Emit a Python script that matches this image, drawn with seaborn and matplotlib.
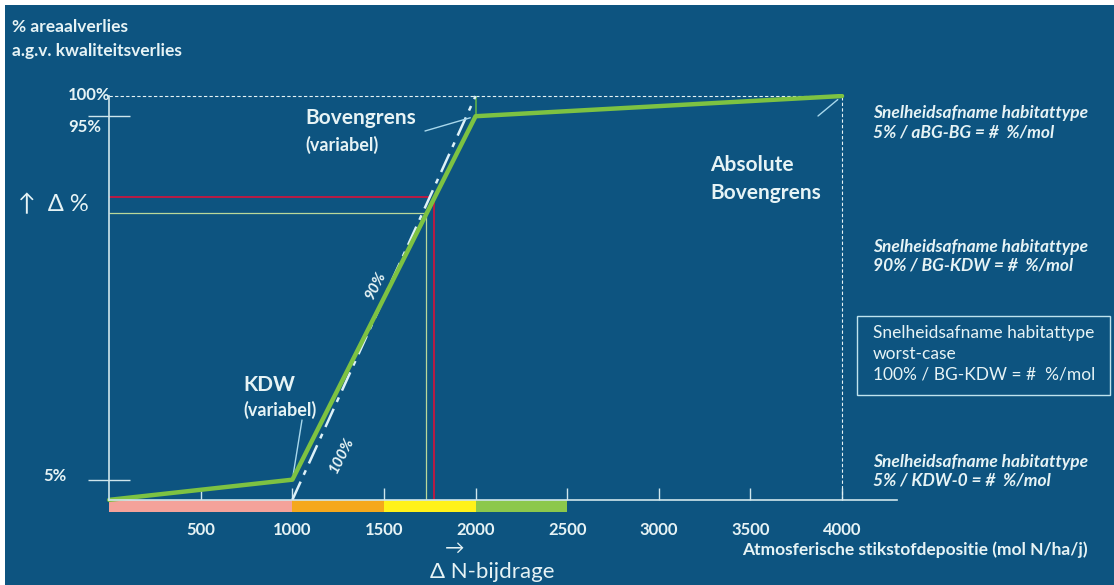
import matplotlib
matplotlib.use("Agg")
import matplotlib.pyplot as plt
from matplotlib.patches import Rectangle
import seaborn as sns
import pandas as pd

# --- data ---
curve_x = [0, 1000, 2000, 4000]          # KDW, BG, absolute BG (mol N/ha/j)
curve_y = [0, 5, 95, 100]                # % areaalverlies
worst_x = [1000, 2000]
worst_y = [0, 100]
bar_start = [0, 1000, 1500, 2000]
bar_width = [1000, 500, 500, 500]
bar_colors = ["#F4A29A", "#F5A81C", "#FFF21A", "#8CC84B"]
x_ticks = [500, 1000, 1500, 2000, 2500, 3000, 3500, 4000]
y_ticks = [5, 95]
y_labels = ["100%", "95%", "5%"]
red_point = (1775, 75)
green_point = (1730, 71)

W, H = 1114, 585
BG = "#0D5480"
TXT = "#E6F3F5"
LINEBLUE = "#A8D8EC"


def fxy(px, py):
    return (px / W, 1 - py / H)


sns.set_style("white")
plt.rcParams["font.family"] = ["Lato", "DejaVu Sans"]

fig = plt.figure(figsize=(W / 100, H / 100), dpi=100, facecolor="white")
fig.patches.append(Rectangle((5 / W, 0), 1, 1 - 5 / H, transform=fig.transFigure,
                             facecolor=BG, edgecolor="none", zorder=-10))

# axes: 100..897 px horizontally, 94..514 px vertically
ax = fig.add_axes([100 / W, 1 - 514 / H, 797 / W, 420 / H])
ax.set_facecolor("none")
ax.set_xlim(-50, 4300)
ax.set_ylim(-3.5, 100.5)

# colored deposition bands below the axis
ax.barh(y=-1.5, width=bar_width, left=bar_start, height=3, color=bar_colors,
        edgecolor="none", zorder=2)

# reference lines
ax.hlines(100, 0, 4000, colors=TXT, linestyles=(0, (3, 2)), lw=0.8)
ax.vlines(4000, 0, 100, colors=TXT, linestyles=(0, (3, 2)), lw=0.8)
ax.vlines(2000, 95, 100, colors="#5DB04A", lw=1.2)
ax.hlines(green_point[1], 0, green_point[0], colors="#B9D89A", lw=0.9)
ax.vlines(green_point[0], 0, green_point[1], colors="#B9D89A", lw=0.9)
ax.hlines(red_point[1], 0, red_point[0] - 25, colors="#C8173F", lw=1.3)
ax.vlines(red_point[0], 0, red_point[1], colors="#C8173F", lw=1.3)

# worst-case (100%) line and the actual curve
ax.plot(worst_x, worst_y, color="#DDF1F8", lw=1.8, ls=(0, (8, 3, 2, 3)), zorder=3)
df = pd.DataFrame({"x": curve_x, "y": curve_y})
sns.lineplot(data=df, x="x", y="y", ax=ax, color="#7DC242", lw=3.2, zorder=4,
             sort=False, estimator=None)

# spines / ticks
for s in ["top", "right"]:
    ax.spines[s].set_visible(False)
ax.spines["left"].set_position(("data", 0))
ax.spines["left"].set_bounds(0, 100)
ax.spines["bottom"].set_position(("data", 0))
ax.spines["bottom"].set_bounds(0, 4300)
for s in ["left", "bottom"]:
    ax.spines[s].set_color("#CFE6EC")
    ax.spines[s].set_linewidth(1.2)
    ax.spines[s].set_zorder(5)
ax.set_xticks(x_ticks)
ax.set_xticklabels([str(t) for t in x_ticks], fontsize=12, fontweight="bold", color=TXT)
ax.tick_params(axis="x", bottom=True, direction="in", length=9, width=1,
               color="#CFE6EC", pad=16)
ax.set_yticks(y_ticks)
ax.set_yticklabels([])
ax.tick_params(axis="y", left=True, direction="inout", length=30, width=1, color="#CFE6EC")
ax.set_xlabel("")
ax.set_ylabel("")


# text labels
def ftext(px, py, s, **kw):
    kw.setdefault("color", TXT)
    kw.setdefault("va", "center")
    kw.setdefault("ha", "left")
    fig.text(*fxy(px, py), s, **kw)


for (px, py), lab in zip([(68, 95), (68, 127), (43, 476)], y_labels):
    ftext(px, py, lab, fontsize=12, fontweight="bold")

ftext(12, 27, "% areaalverlies", fontsize=12.5, fontweight="bold")
ftext(12, 51, "a.g.v. kwaliteitsverlies", fontsize=12.5, fontweight="bold")
ftext(18, 205, "↑  Δ %", fontsize=17)
ftext(305, 118, "Bovengrens", fontsize=15, fontweight="bold")
ftext(305, 145, "(variabel)", fontsize=13, fontweight="bold")
ftext(243, 385, "KDW", fontsize=15, fontweight="bold")
ftext(243, 410, "(variabel)", fontsize=13, fontweight="bold")
ftext(710, 165, "Absolute", fontsize=15, fontweight="bold")
ftext(710, 193, "Bovengrens", fontsize=15, fontweight="bold")

right_blocks = [
    (113, ["Snelheidsafname habitattype", "5% / aBG-BG = #  %/mol"]),
    (247, ["Snelheidsafname habitattype", "90% / BG-KDW = #  %/mol"]),
    (462, ["Snelheidsafname habitattype", "5% / KDW-0 = #  %/mol"]),
]
for y0, lines in right_blocks:
    for i, line in enumerate(lines):
        ftext(873, y0 + i * 19, line, fontsize=12.5, fontweight="bold", style="italic")

fig.patches.append(Rectangle(fxy(857, 395), 253 / W, 79 / H, transform=fig.transFigure,
                             facecolor="none", edgecolor="#BFE3EE", lw=1))
for i, line in enumerate(["Snelheidsafname habitattype", "worst-case", "100% / BG-KDW = #  %/mol"]):
    ftext(873, 333 + i * 21, line, fontsize=12.5)

ftext(445, 548, "→", fontsize=14)
ftext(430, 572, "Δ N-bijdrage", fontsize=16)
ftext(742, 550, "Atmosferische stikstofdepositie (mol N/ha/j)", fontsize=12.5, fontweight="bold")

ftext(376, 285, "90%", fontsize=11, fontweight="bold", style="italic", rotation=63, ha="center")
ftext(342, 455, "100%", fontsize=11, fontweight="bold", style="italic", rotation=63, ha="center")

# connector lines
conn = dict(arrowstyle="-", color=LINEBLUE, lw=1, shrinkA=0, shrinkB=4)
ax.annotate("", xy=(2000, 95), xytext=fxy(425, 131), textcoords="figure fraction", arrowprops=conn)
ax.annotate("", xy=(1000, 5), xytext=fxy(302, 420), textcoords="figure fraction", arrowprops=conn)
ax.annotate("", xy=(4000, 100), xytext=fxy(818, 116), textcoords="figure fraction", arrowprops=conn)

fig.savefig("out.png", dpi=100, facecolor=fig.get_facecolor())
